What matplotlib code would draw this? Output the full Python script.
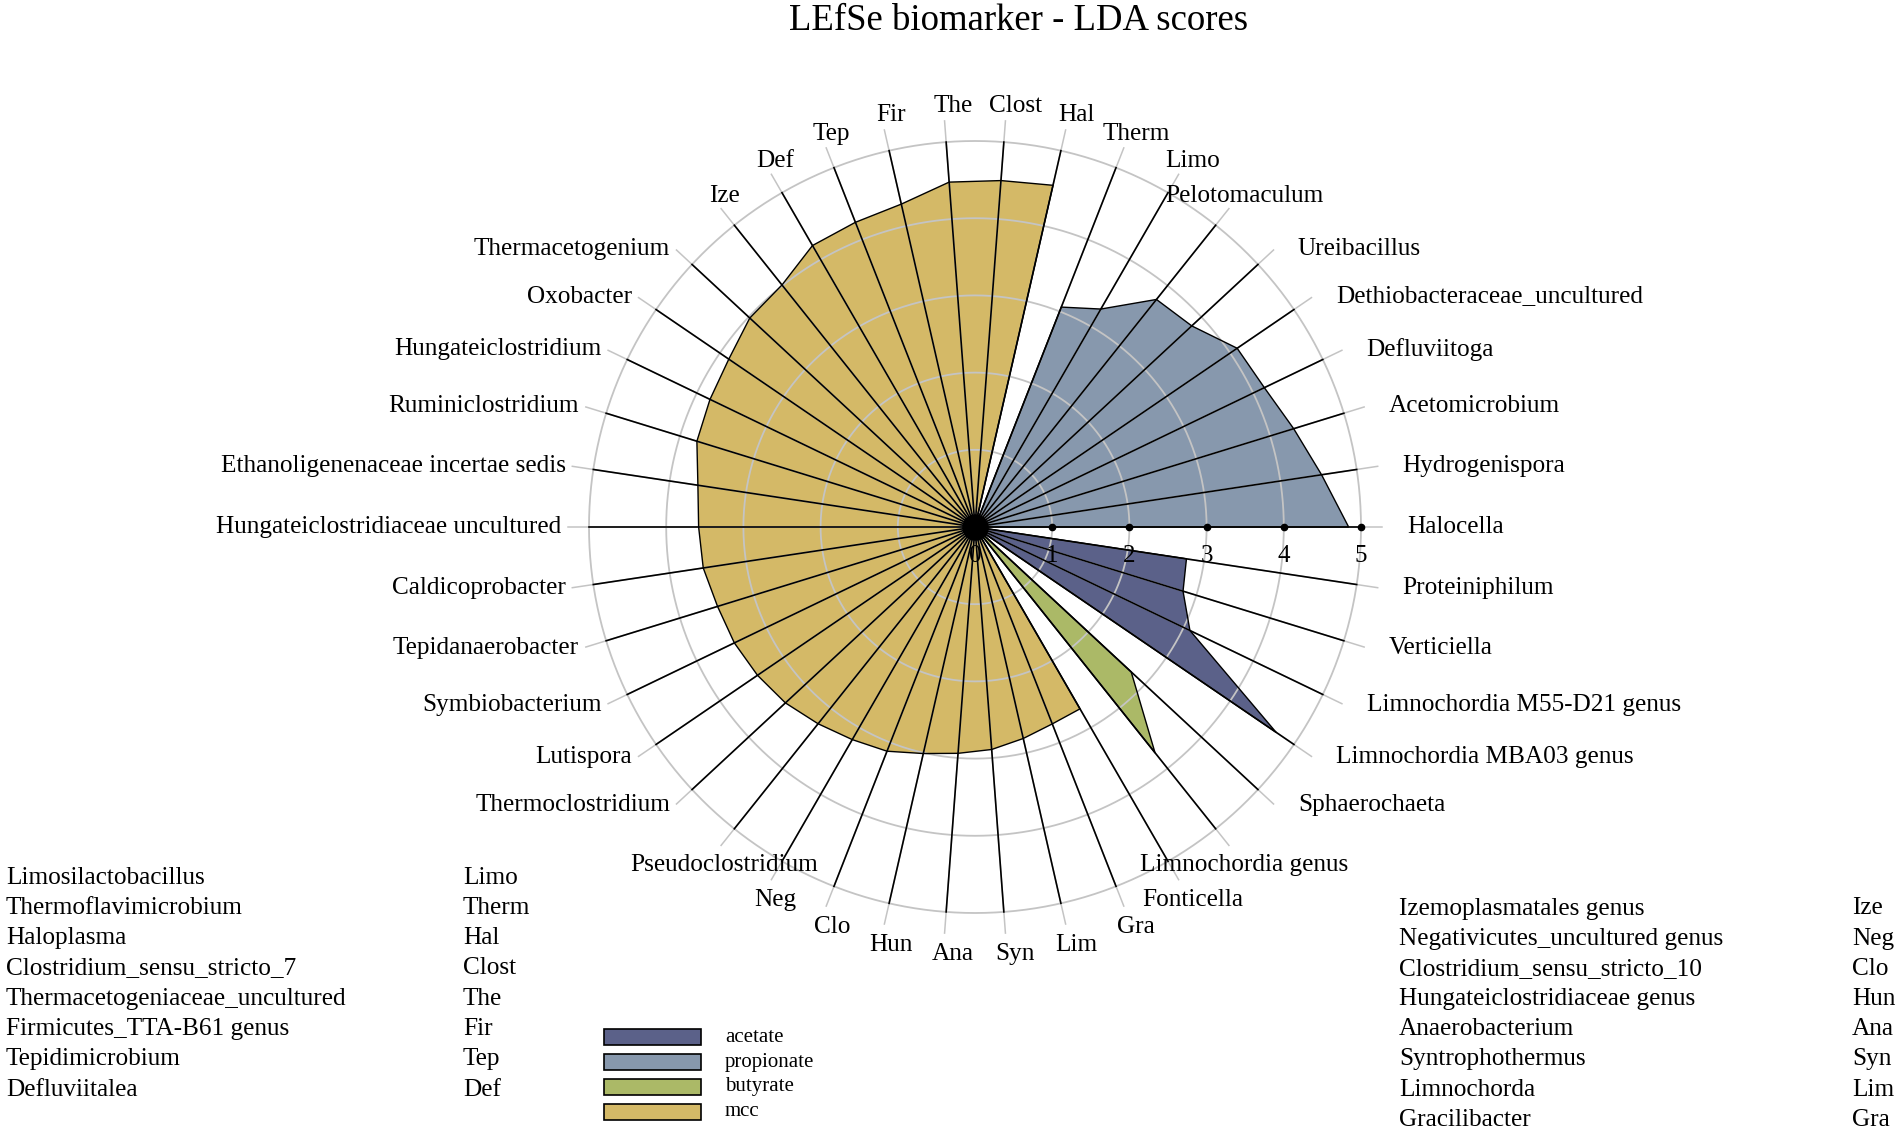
import numpy as np
import matplotlib
matplotlib.use("Agg")
import matplotlib.pyplot as plt
from matplotlib.patches import Rectangle

plt.rcParams['font.family'] = ['Liberation Serif', 'DejaVu Serif']

# ---------------- data ----------------
acetate_taxa = ["Proteiniphilum", "Verticiella", "Limnochordia M55-D21 genus",
                "Limnochordia MBA03 genus"]
acetate_lda = [2.77, 2.82, 3.09, 4.72]

butyrate_taxa = ["Sphaerochaeta", "Limnochordia genus"]
butyrate_lda = [2.76, 3.74]

mcc_taxa = ["Fonticella", "Gra", "Lim", "Syn", "Ana", "Hun", "Clo", "Neg",
            "Pseudoclostridium", "Thermoclostridium", "Lutispora", "Symbiobacterium",
            "Tepidanaerobacter", "Caldicoprobacter", "Hungateiclostridiaceae uncultured",
            "Ethanoligenenaceae incertae sedis", "Ruminiclostridium", "Hungateiclostridium",
            "Oxobacter", "Thermacetogenium", "Ize", "Def", "Tep", "Fir", "The", "Clost", "Hal"]
mcc_lda = [2.72, 2.74, 2.81, 2.89, 2.94, 3.01, 3.12, 3.18, 3.26, 3.35, 3.41, 3.46,
           3.49, 3.56, 3.58, 3.63, 3.77, 3.81, 3.86, 3.98, 4.01, 4.21, 4.24, 4.29,
           4.48, 4.50, 4.54]

propionate_taxa = ["Therm", "Limo", "Pelotomaculum", "Ureibacillus",
                   "Dethiobacteraceae_uncultured", "Defluviitoga", "Acetomicrobium",
                   "Hydrogenispora", "Halocella"]
propionate_lda = [3.06, 3.26, 3.77, 3.83, 4.11, 4.16, 4.32, 4.54, 4.84]

group_names = ["acetate", "propionate", "butyrate", "mcc"]
group_colors = {"acetate": "#5b6189", "propionate": "#8798ad",
                "butyrate": "#abb967", "mcc": "#d4b967"}

radial_ticks = [0, 1, 2, 3, 4, 5]

left_full = ["Limosilactobacillus", "Thermoflavimicrobium", "Haloplasma",
             "Clostridium_sensu_stricto_7", "Thermacetogeniaceae_uncultured",
             "Firmicutes_TTA-B61 genus", "Tepidimicrobium", "Defluviitalea"]
left_abbr = ["Limo", "Therm", "Hal", "Clost", "The", "Fir", "Tep", "Def"]
right_full = ["Izemoplasmatales genus", "Negativicutes_uncultured genus",
              "Clostridium_sensu_stricto_10", "Hungateiclostridiaceae genus",
              "Anaerobacterium", "Syntrophothermus", "Limnochorda", "Gracilibacter"]
right_abbr = ["Ize", "Neg", "Clo", "Hun", "Ana", "Syn", "Lim", "Gra"]

# ---------------- figure ----------------
W, H = 1902, 1134
fig = plt.figure(figsize=(W / 100, H / 100), dpi=100)
cx, cy, R = 975, 527, 386
ax = fig.add_axes([(cx - R) / W, (H - cy - R) / H, 2 * R / W, 2 * R / H],
                  projection='polar')
ax.set_theta_zero_location('E')
ax.set_theta_direction(-1)
ax.set_ylim(0, radial_ticks[-1])
ax.grid(False)
ax.set_xticks([])
ax.set_yticks([])
ax.spines['polar'].set_visible(False)
ax.set_facecolor('none')

ordered = [("acetate", acetate_taxa, acetate_lda),
           ("butyrate", butyrate_taxa, butyrate_lda),
           ("mcc", mcc_taxa, mcc_lda),
           ("propionate", propionate_taxa, propionate_lda)]
n = sum(len(t) for _, t, _ in ordered)
step = 2 * np.pi / n
rmax = radial_ticks[-1]

all_taxa, all_theta = [], []
pos = 1
for name, taxa, vals in ordered:
    th = step * np.arange(pos, pos + len(taxa))
    pos += len(taxa)
    tt = np.r_[th[0], th, th[-1]]
    rr = np.r_[0, vals, 0]
    ax.fill(tt, rr, color=group_colors[name], lw=0, zorder=1)
    ax.plot(tt, rr, color='black', lw=1.0, zorder=4, clip_on=False)
    all_taxa += taxa
    all_theta += list(th)

# grid circles
circ = np.linspace(0, 2 * np.pi, 721)
for k in radial_ticks[1:]:
    ax.plot(circ, np.full_like(circ, k), color='#c4c4c4', lw=1.3, zorder=2,
            clip_on=False)

# radial grid lines (gray, slightly longer) and black spokes
for th in all_theta:
    ax.plot([th, th], [0, rmax * 1.055], color='#c4c4c4', lw=1.1, zorder=2,
            clip_on=False)
    ax.plot([th, th], [0, rmax], color='black', lw=1.2, zorder=3, clip_on=False)

# spoke labels
for th, lab in zip(all_theta, all_taxa):
    phi = -th
    s, c = np.sin(phi), np.cos(phi)
    if abs(s) > 0.72:
        ax.annotate(lab, (th, rmax * 1.08), xytext=(6.5, 3.9 if s > 0 else -8.4),
                    textcoords='offset points', ha='center', va='center',
                    fontsize=18.2, zorder=5, annotation_clip=False)
    elif c > 0:
        ax.annotate(lab, (th, rmax * 1.06), xytext=(16.5, 0),
                    textcoords='offset points', ha='left', va='center',
                    fontsize=18.2, zorder=5, annotation_clip=False)
    else:
        ax.annotate(lab, (th, rmax * 1.06), xytext=(-3.5, 0),
                    textcoords='offset points', ha='right', va='center',
                    fontsize=18.2, zorder=5, annotation_clip=False)

# radial tick dots and numbers
ax.plot(np.zeros(len(radial_ticks) - 1), radial_ticks[1:], 'o', ms=4.5,
        color='black', zorder=5, clip_on=False)
for k in radial_ticks:
    ax.annotate(str(k), (0, k), xytext=(0, -21), textcoords='offset points',
                ha='center', va='center', fontsize=18, zorder=5)
ax.plot([0], [0], 'o', ms=18, color='black', zorder=6)

# title
fig.text(1019 / W, 1 - 21 / H, "LEfSe biomarker - LDA scores", ha='center',
         va='center', fontsize=26.5)

# abbreviation tables
for i, (f, a) in enumerate(zip(left_full, left_abbr)):
    y = 1 - (877.5 + i * 30.3) / H
    fig.text(6 / W, y, f, ha='left', va='center', fontsize=18.2)
    fig.text(463 / W, y, a, ha='left', va='center', fontsize=18.2)
for i, (f, a) in enumerate(zip(right_full, right_abbr)):
    y = 1 - (908.5 + i * 30.2) / H
    fig.text(1399 / W, y, f, ha='left', va='center', fontsize=18.2)
    fig.text(1852 / W, y, a, ha='left', va='center', fontsize=18.2)

# legend
for i, g in enumerate(group_names):
    yc = 1037 + i * 25
    fig.add_artist(Rectangle((604 / W, 1 - (yc + 8) / H), 97 / W, 16 / H,
                             transform=fig.transFigure, facecolor=group_colors[g],
                             edgecolor='black', lw=1.2))
    fig.text(725 / W, 1 - yc / H, g, ha='left', va='center', fontsize=15)

fig.savefig("out.png", dpi=100, facecolor='white')
